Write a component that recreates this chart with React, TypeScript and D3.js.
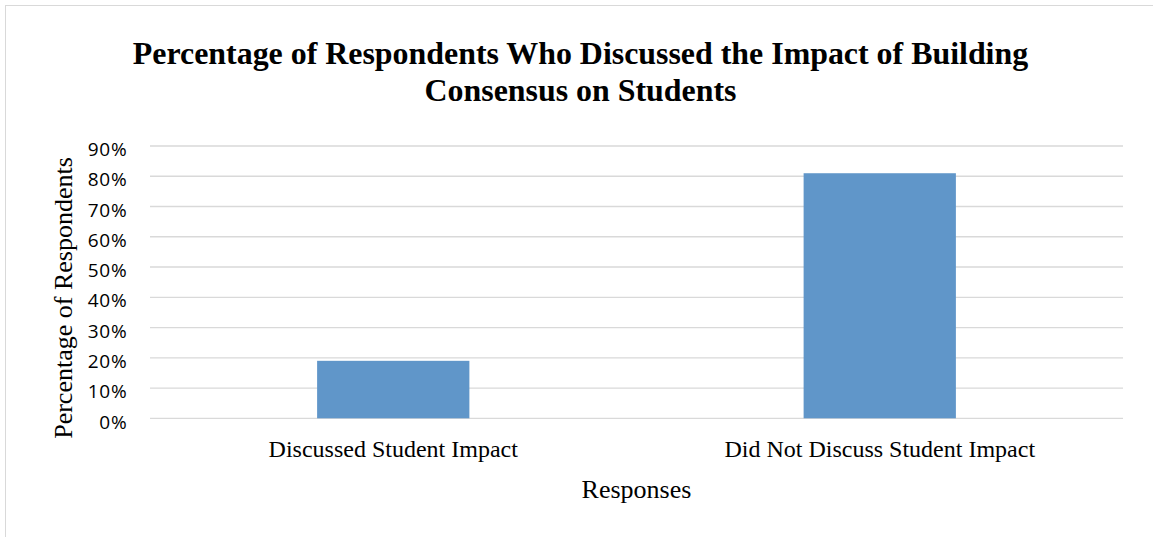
import React from "react";
import * as d3 from "d3";

const categories: string[] = ["Discussed Student Impact", "Did Not Discuss Student Impact"];
const values: number[] = [19, 81];
const yTicks: number[] = [0, 10, 20, 30, 40, 50, 60, 70, 80, 90];
const titleLines: string[] = [
  "Percentage of Respondents Who Discussed the Impact of Building",
  "Consensus on Students",
];
const xAxisTitle = "Responses";
const yAxisTitle = "Percentage of Respondents";

const W = 1153;
const H = 537;
const plot = { left: 150, right: 1123, top: 146, bottom: 418.3 };

export default function App() {
  const x = d3
    .scaleBand<string>()
    .domain(categories)
    .range([plot.left, plot.right])
    .paddingInner(0.687)
    .paddingOuter(0.3435);
  const y = d3.scaleLinear().domain([0, 90]).range([plot.bottom, plot.top]);
  const serif = "'Liberation Serif', 'Times New Roman', serif";
  const sans = "'Open Sans', 'Noto Sans', sans-serif";
  const cx = 580.5;

  return (
    <svg
      width={W}
      height={H}
      style={{ position: "absolute", left: 0, top: 0, background: "#fff" }}
    >
      <rect x={5.5} y={5.5} width={1150} height={540} fill="#fff" stroke="#d9d9d9" strokeWidth={1} />
      {titleLines.map((t, i) => (
        <text
          key={i}
          x={cx}
          y={64 + i * 36.5}
          textAnchor="middle"
          fontFamily={serif}
          fontWeight="bold"
          fontSize={31.9}
          fill="#000"
        >
          {t}
        </text>
      ))}
      {yTicks.map((t) => (
        <g key={t}>
          <line
            x1={plot.left}
            x2={plot.right}
            y1={y(t)}
            y2={y(t)}
            stroke="#d9d9d9"
            strokeWidth={1.3}
          />
          <text
            x={127.5}
            y={y(t) + 10.2}
            textAnchor="end"
            fontFamily={sans}
            fontSize={19}
            letterSpacing={0.8}
            fill="#000"
          >
            {`${t}%`}
          </text>
        </g>
      ))}
      {categories.map((c, i) => (
        <rect
          key={c}
          x={x(c)!}
          y={y(values[i])}
          width={x.bandwidth()}
          height={y(0) - y(values[i])}
          fill="#6096c9"
        />
      ))}
      {categories.map((c) => (
        <text
          key={c}
          x={x(c)! + x.bandwidth() / 2}
          y={457}
          textAnchor="middle"
          fontFamily={serif}
          fontSize={24}
          fill="#000"
        >
          {c}
        </text>
      ))}
      <text x={cx + 56} y={497.5} textAnchor="middle" fontFamily={serif} fontSize={26} fill="#000">
        {xAxisTitle}
      </text>
      <text
        transform={`translate(72, 298) rotate(-90)`}
        textAnchor="middle"
        fontFamily={serif}
        fontSize={26}
        fill="#000"
      >
        {yAxisTitle}
      </text>
    </svg>
  );
}
